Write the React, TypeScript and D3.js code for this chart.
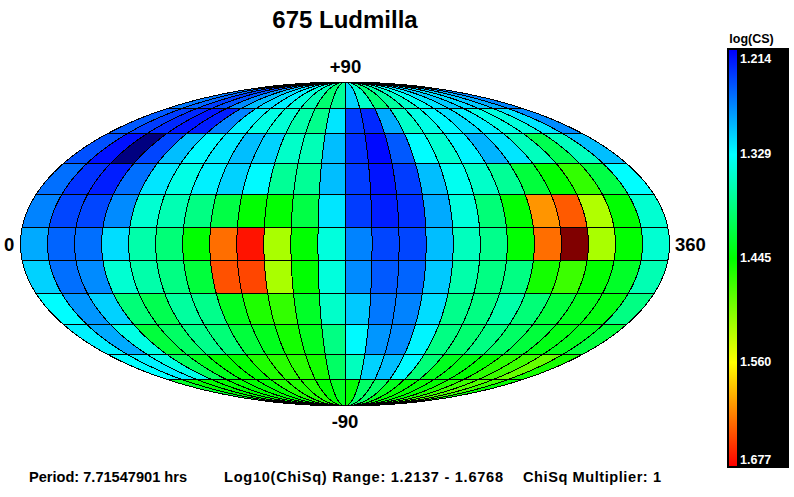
import React from "react";
import * as d3 from "d3";

const W = 794, H = 497;
const title = "675 Ludmilla";
const vMin = 1.2137, vMax = 1.6768;
const latEdges = [90, 67.5, 52.5, 37.5, 22.5, 7.5, -7.5, -22.5, -37.5, -52.5, -67.5, -90];
const lonStep = 15;
const band0 = [1.268,1.259,1.241,1.250,1.277,1.300,1.314,1.323,1.345,1.364,1.395,1.377,1.309,1.354,1.391,1.373,1.354,1.336,1.318,1.305,1.314,1.305,1.291,1.273];
const band1 = [1.254,1.241,1.232,1.223,1.227,1.273,1.323,1.341,1.348,1.368,1.382,1.318,1.241,1.232,1.291,1.354,1.341,1.327,1.314,1.323,1.341,1.345,1.318,1.277];
const band2 = [1.250,1.221,1.2137,1.245,1.300,1.327,1.320,1.300,1.309,1.354,1.362,1.300,1.236,1.218,1.254,1.329,1.350,1.325,1.295,1.318,1.359,1.409,1.359,1.300];
const band3 = [1.264,1.236,1.227,1.264,1.318,1.341,1.323,1.309,1.327,1.377,1.377,1.300,1.241,1.223,1.241,1.300,1.336,1.354,1.377,1.418,1.445,1.468,1.414,1.329];
const band4 = [1.273,1.245,1.245,1.277,1.350,1.364,1.386,1.414,1.445,1.445,1.414,1.318,1.241,1.227,1.236,1.291,1.345,1.391,1.445,1.609,1.636,1.525,1.445,1.350];
const band5 = [1.291,1.259,1.264,1.314,1.368,1.391,1.445,1.627,1.668,1.522,1.445,1.345,1.273,1.245,1.245,1.300,1.359,1.382,1.445,1.627,1.6768,1.522,1.445,1.350];
const band6 = [1.309,1.264,1.277,1.350,1.368,1.386,1.418,1.640,1.645,1.522,1.445,1.345,1.277,1.254,1.259,1.305,1.368,1.386,1.386,1.454,1.472,1.445,1.427,1.364];
const band7 = [1.329,1.282,1.309,1.391,1.409,1.373,1.382,1.432,1.459,1.468,1.427,1.354,1.305,1.268,1.273,1.314,1.382,1.386,1.368,1.391,1.418,1.432,1.438,1.386];
const band8 = [1.323,1.291,1.341,1.418,1.400,1.382,1.391,1.418,1.432,1.454,1.432,1.386,1.327,1.282,1.277,1.325,1.386,1.395,1.386,1.400,1.418,1.436,1.432,1.418];
const band9 = [1.329,1.323,1.341,1.404,1.432,1.445,1.445,1.459,1.463,1.463,1.454,1.400,1.359,1.309,1.300,1.327,1.391,1.432,1.436,1.445,1.463,1.472,1.491,1.454];
const band10 = [1.427,1.445,1.445,1.445,1.445,1.445,1.445,1.459,1.459,1.459,1.445,1.432,1.445,1.400,1.400,1.432,1.445,1.445,1.445,1.459,1.472,1.481,1.472,1.445];
const bands = [band0, band1, band2, band3, band4, band5, band6, band7, band8, band9, band10];
const colorTicks = ["1.214", "1.329", "1.445", "1.560", "1.677"];
const footer = [
  { text: "Period: 7.71547901 hrs", x: 29, w: 158 },
  { text: "Log10(ChiSq) Range: 1.2137 - 1.6768", x: 224, w: 279 },
  { text: "ChiSq Multiplier: 1", x: 523, w: 138 },
];

const FONT = "'Liberation Sans', Arial, sans-serif";
const cx = 345, cy = 244, a = 324.5, b = 162;

const stops = d3.range(5).map((i) => vMin + (i * (vMax - vMin)) / 4);
const color = d3.scaleLinear<string>().domain(stops).range(["#0000ff", "#00ffff", "#00ff00", "#ffff00", "#ff0000"]).clamp(true);
const cellColor = (v: number) => (v <= vMin ? "#000080" : v >= vMax ? "#800000" : color(v));

const xScale = d3.scaleLinear().domain([0, 360]).range([-a, a]);
const yScale = d3.scaleLinear().domain([-1, 1]).range([cy + b, cy - b]);

function theta(latDeg: number) {
  const phi = (latDeg * Math.PI) / 180;
  if (Math.abs(latDeg) >= 90) return Math.sign(latDeg) * (Math.PI / 2);
  let t = phi;
  for (let i = 0; i < 60; i++) {
    const f = 2 * t + Math.sin(2 * t) - Math.PI * Math.sin(phi);
    const d = 2 + 2 * Math.cos(2 * t);
    if (Math.abs(d) < 1e-9) break;
    t -= f / d;
  }
  return t;
}
const project = (lon: number, lat: number): [number, number] => {
  const t = theta(lat);
  return [cx + xScale(lon) * Math.cos(t), yScale(Math.sin(t))];
};
const line = d3.line();

function cellPath(i: number, j: number) {
  const top = latEdges[i], bot = latEdges[i + 1];
  const l0 = j * lonStep, l1 = (j + 1) * lonStep;
  const lats = d3.range(0, 17).map((k) => top + ((bot - top) * k) / 16);
  const pts = [
    ...lats.map((la) => project(l0, la)),
    ...lats.slice().reverse().map((la) => project(l1, la)),
  ];
  return (line(pts) as string) + "Z";
}

const barY = d3.scaleLinear().domain([vMin, vMax]).range([50, 466]);

export default function App() {
  const strip = d3.range(50, 466);
  return (
    <svg width={W} height={H} viewBox={`0 0 ${W} ${H}`} style={{ position: "absolute", left: 0, top: 0, display: "block", background: "#fff" }}>
      <text x={345} y={28} textAnchor="middle" fontFamily={FONT} fontWeight="bold" fontSize={24}>{title}</text>
      <g>
        {bands.map((row, i) =>
          row.map((v, j) => (
            <path key={`${i}-${j}`} d={cellPath(i, j)} fill={cellColor(v)} stroke="#000" strokeWidth={1} shapeRendering="crispEdges" strokeLinejoin="bevel" />
          ))
        )}
      </g>
      <g fontFamily={FONT} fontWeight="bold" fontSize={18.5} fill="#000">
        <text x={345.5} y={72.5} textAnchor="middle">+90</text>
        <text x={345} y={428} textAnchor="middle">-90</text>
        <text x={4} y={251}>0</text>
        <text x={675} y={251}>360</text>
      </g>
      <text x={751.5} y={43} textAnchor="middle" fontFamily={FONT} fontWeight="bold" fontSize={12.5}>log(CS)</text>
      <rect x={727} y={48} width={62} height={420} fill="#000" />
      {strip.map((y) => (
        <rect key={y} x={729} y={y} width={8} height={1} fill={color(barY.invert(y))} shapeRendering="crispEdges" />
      ))}
      <g fontFamily={FONT} fontWeight="bold" fontSize={12.5} fill="#fff">
        {colorTicks.map((t) => (
          <text key={t} x={740} y={Math.min(Math.max(barY(+t), 58), 459) + 4.5}>{t}</text>
        ))}
      </g>
      <g fontFamily={FONT} fontWeight="bold" fontSize={14.6}>
        {footer.map((f) => (
          <text key={f.text} x={f.x} y={482} textLength={f.w} lengthAdjust="spacing">{f.text}</text>
        ))}
      </g>
    </svg>
  );
}
